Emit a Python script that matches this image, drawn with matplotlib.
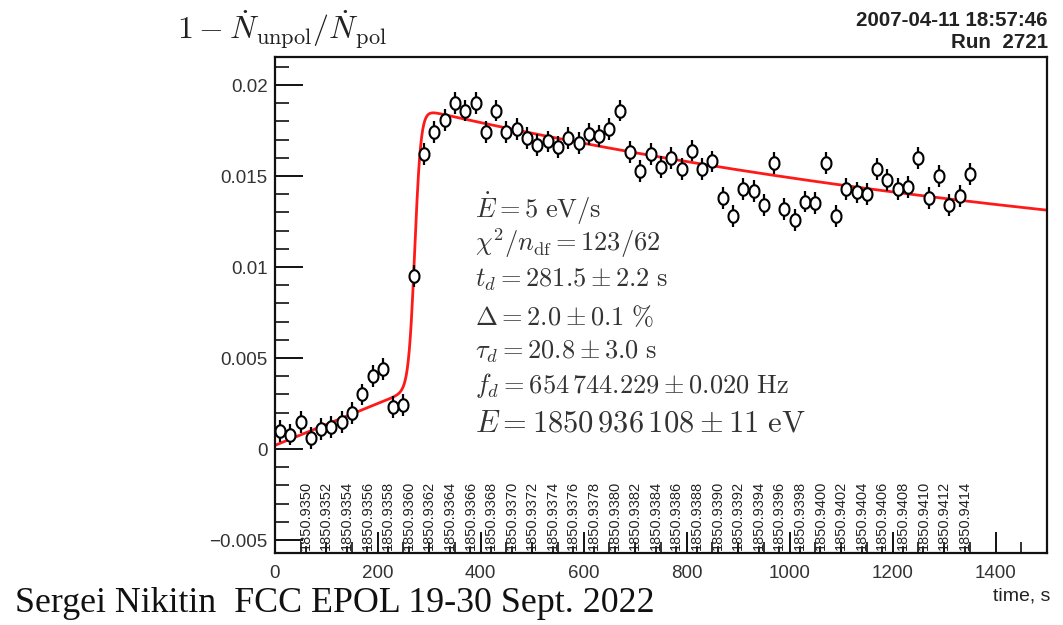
import numpy as np
import matplotlib
matplotlib.use("Agg")
import matplotlib.pyplot as plt
from matplotlib.path import Path
from matplotlib.ticker import MultipleLocator
import matplotlib.transforms as mtransforms

plt.rcParams['mathtext.fontset'] = 'cm'
plt.rcParams['font.family'] = ['Liberation Sans', 'DejaVu Sans']

# ---- data ----
time_s = [10, 30, 50, 70, 90, 110, 130, 150, 170, 190, 210, 230, 250, 270, 290, 310,
          330, 350, 370, 390, 410, 430, 450, 470, 490, 510, 530, 550, 570, 590, 610,
          630, 650, 670, 690, 710, 730, 750, 770, 790, 810, 830, 850, 870, 890, 910,
          930, 950, 970, 990, 1010, 1030, 1050, 1070, 1090, 1110, 1130, 1150, 1170,
          1190, 1210, 1230, 1250, 1270, 1290, 1310, 1330, 1350]
asym = [0.0010, 0.0008, 0.0015, 0.0006, 0.0011, 0.0012, 0.0015, 0.0020, 0.0030, 0.0040,
        0.0044, 0.0023, 0.0024, 0.0095, 0.0162, 0.0174, 0.0181, 0.0190, 0.0186, 0.0190,
        0.0174, 0.0186, 0.0174, 0.0176, 0.0171, 0.0167, 0.0169, 0.0166, 0.0171, 0.0168,
        0.0173, 0.0172, 0.0176, 0.0186, 0.0163, 0.0153, 0.0162, 0.0155, 0.0160, 0.0154,
        0.0164, 0.0154, 0.0158, 0.0138, 0.0128, 0.0143, 0.0142, 0.0134, 0.0157, 0.0132,
        0.0126, 0.0136, 0.0135, 0.0157, 0.0128, 0.0143, 0.0141, 0.0140, 0.0154, 0.0148,
        0.0143, 0.0144, 0.0160, 0.0138, 0.0150, 0.0134, 0.0139, 0.0151]
asym_err = 0.0006

# fit model parameters
pre_offset, pre_slope = 0.0002, 1.15e-5
post_const, post_amp, post_tau = 0.00826, 0.0103, 1600.0
t_step, w_step = 272.0, 6.0

# energy scale
E_dot = 5.0             # eV/s
t_d = 281.5             # s
E_d = 1850936108.0      # eV
energy_labels = ["%.4f" % (1850.9350 + 0.0002 * k) for k in range(33)]

# ---- figure ----
fig = plt.figure(figsize=(10.63, 6.25), dpi=100)
ax = fig.add_axes([0.2585, 0.1152, 0.7265, 0.7936])
ax.set_xlim(0, 1500)
ax.set_ylim(-0.00571, 0.02154)

# fit curve
tt = np.linspace(0, 1500, 1500)
pre = pre_offset + pre_slope * tt
post = post_const + post_amp * np.exp(-(tt - 300.0) / post_tau)
sig = 1.0 / (1.0 + np.exp(-(tt - t_step) / w_step))
fit = pre + (post - pre) * sig
ax.plot(tt, fit, color='#ff1a1a', lw=2.0, zorder=2)

# data points
theta = np.linspace(0, 2 * np.pi, 40)
ell = Path(np.column_stack([np.cos(theta), 1.25 * np.sin(theta)]))
ax.errorbar(time_s, asym, yerr=asym_err, fmt='none', ecolor='black', elinewidth=1.6, zorder=3)
ax.plot(time_s, asym, linestyle='none', marker=ell, markersize=9,
        markerfacecolor='white', markeredgecolor='black', markeredgewidth=1.5, zorder=4)

# frame and ticks
for s in ax.spines.values():
    s.set_linewidth(1.6)
    s.set_color('#111111')
ax.xaxis.set_major_locator(MultipleLocator(200))
ax.xaxis.set_minor_locator(MultipleLocator(50))
ax.yaxis.set_major_locator(MultipleLocator(0.005))
ax.yaxis.set_minor_locator(MultipleLocator(0.001))
ax.tick_params(axis='both', which='both', direction='in', top=False, right=False,
               color='#111111', labelcolor='#333333', labelsize=13.5)
ax.tick_params(axis='x', which='major', length=15, width=1.4, pad=9)
ax.tick_params(axis='x', which='minor', length=8, width=1.2)
ax.tick_params(axis='y', which='major', length=20, width=1.4, pad=5)
ax.tick_params(axis='y', which='minor', length=10, width=1.2)
ax.set_xticks([0, 200, 400, 600, 800, 1000, 1200, 1400])
ax.set_xticklabels(['0', '200', '400', '600', '800', '1000', '1200', '1400'])
ax.set_yticks([-0.005, 0, 0.005, 0.01, 0.015, 0.02])
ax.set_yticklabels(['\u22120.005', '0', '0.005', '0.01', '0.015', '0.02'])

# energy scale labels inside bottom
btrans = mtransforms.blended_transform_factory(ax.transData, ax.transAxes)
for lab in energy_labels:
    E_ev = float(lab) * 1e6
    tpos = t_d + (E_ev - E_d) / E_dot
    ax.plot([tpos, tpos], [0.0, 0.012], transform=btrans, color='#111111', lw=1.3)
    ax.text(tpos, 0.006, lab, transform=btrans, rotation=90, ha='center', va='bottom',
            fontsize=10.5, color='#222222')

# fit results text
lines = [r'$\dot{E} = 5\ \mathrm{eV/s}$',
         r'$\chi^2/n_\mathrm{df} = 123/62$',
         r'$t_d = 281.5 \pm 2.2\ \mathrm{s}$',
         r'$\Delta = 2.0 \pm 0.1\ \%$',
         r'$\tau_d = 20.8 \pm 3.0\ \mathrm{s}$',
         r'$f_d = 654\,744.229 \pm 0.020\ \mathrm{Hz}$']
ys = [209, 243, 280, 317, 352, 386]
for s, y in zip(lines, ys):
    fig.text(475 / 1063, 1 - y / 625, s, fontsize=19, color='#333333', ha='left', va='center')
fig.text(475 / 1063, 1 - 423 / 625, r'$E = 1850\,936\,108 \pm 11\ \mathrm{eV}$',
         fontsize=22, color='#333333', ha='left', va='center')

# title and headers
fig.text(177 / 1063, 1 - 30 / 625, r'$1 - \dot{N}_\mathrm{unpol}/\dot{N}_\mathrm{pol}$',
         fontsize=23, color='#222222', ha='left', va='center')
fig.text(1048 / 1063, 1 - 21 / 625, '2007-04-11 18:57:46', fontsize=14.8, fontweight='bold',
         ha='right', va='center', color='#222222')
fig.text(1048 / 1063, 1 - 43 / 625, 'Run  2721', fontsize=14.8, fontweight='bold',
         ha='right', va='center', color='#222222')
fig.text(1050 / 1063, 1 - 596 / 625, 'time, s', fontsize=14, ha='right', va='center',
         color='#222222')
fig.text(15 / 1063, 1 - 603 / 625, 'Sergei Nikitin  FCC EPOL 19-30 Sept. 2022',
         fontsize=25.8, ha='left', va='center', color='#111111',
         family=['Liberation Serif', 'DejaVu Serif'])

fig.savefig('out.png', dpi=100)
